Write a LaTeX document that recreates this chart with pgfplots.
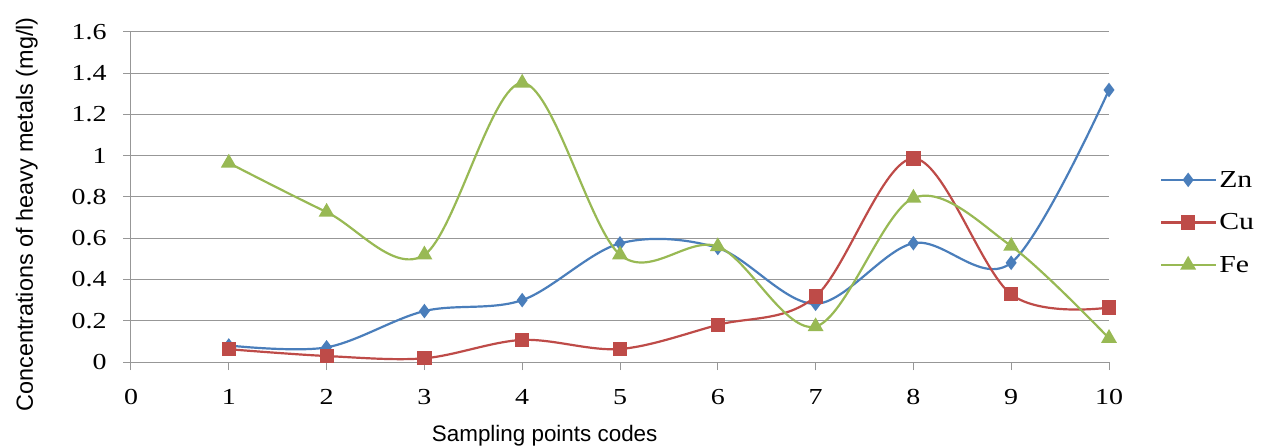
\documentclass[border=0pt]{standalone}
\usepackage{fontspec}
\setmainfont{Liberation Serif}
\setsansfont{Liberation Sans}
\newfontfamily\widefont{Liberation Serif}[FakeStretch=1.22]
\usepackage{pgfplots}
\pgfplotsset{compat=1.18}
\definecolor{zn}{HTML}{4A7EBB}
\definecolor{cu}{HTML}{BE4B48}
\definecolor{fe}{HTML}{98B954}
\definecolor{gridc}{HTML}{979797}
\begin{document}
\begin{tikzpicture}
\begin{axis}[
  at={(0,0)}, anchor=south west,
  scale only axis, width=978bp, height=330bp,
  xmin=0, xmax=10, ymin=0, ymax=1.6,
  xtick={0,1,...,10},
  ytick={0,0.2,0.4,0.6,0.8,1,1.2,1.4,1.6},
  yticklabels={0,0.2,0.4,0.6,0.8,1,1.2,1.4,1.6},
  axis x line*=bottom, axis y line*=left,
  ymajorgrids, major grid style={gridc, line width=1bp},
  axis line style={gridc, line width=1bp},
  tick style={gridc, line width=1bp},
  tick align=outside, major tick length=8bp,
  /pgf/number format/assume math mode=true,
  ticklabel style={font=\widefont\fontsize{23}{23}\selectfont},
  yticklabel style={xshift=-13bp},
  xticklabel style={yshift=-16bp},
  xlabel={Sampling points codes},
  xlabel style={font=\sffamily\fontsize{22.5}{22.5}\selectfont, at={(axis description cs:0.423,0)}, anchor=center, yshift=-74bp},
  ylabel={Concentrations of heavy metals (mg/l)},
  ylabel style={font=\sffamily\fontsize{23.5}{23.5}\selectfont, at={(axis description cs:-0.1064,0.447)}, anchor=center},
  clip=false,
  legend style={at={(axis description cs:1.052,0.585)}, anchor=north west, draw=none, fill=none,
    font=\widefont\fontsize{24.5}{24.5}\selectfont, row sep=21bp, inner sep=0pt},
  legend cell align=left,
  legend image code/.code={\draw[#1, mark repeat=2, mark phase=2] plot coordinates {(0bp,0bp)(27bp,0bp)(55bp,0bp)};},
  every axis plot/.append style={line width=2.2bp, smooth, tension=0.55},
]
\addplot[zn, mark=diamond*, mark size=5.5bp, mark options={solid}] coordinates {
(1,0.080) (2,0.071) (3,0.247) (4,0.300) (5,0.575) (6,0.553) (7,0.282) (8,0.576) (9,0.481) (10,1.319)};
\addlegendentry{Zn}
\addplot[cu, mark=square*, mark size=6bp] coordinates {
(1,0.062) (2,0.029) (3,0.018) (4,0.107) (5,0.063) (6,0.180) (7,0.318) (8,0.987) (9,0.328) (10,0.264)};
\addlegendentry{Cu}
\addplot[fe, mark=triangle*, mark size=7bp] coordinates {
(1,0.965) (2,0.727) (3,0.520) (4,1.353) (5,0.520) (6,0.560) (7,0.172) (8,0.795) (9,0.562) (10,0.115)};
\addlegendentry{Fe}
\end{axis}
\pgfresetboundingbox
\path[use as bounding box] (-131bp,-85bp) rectangle (1130bp,362bp);
\end{tikzpicture}
\end{document}
